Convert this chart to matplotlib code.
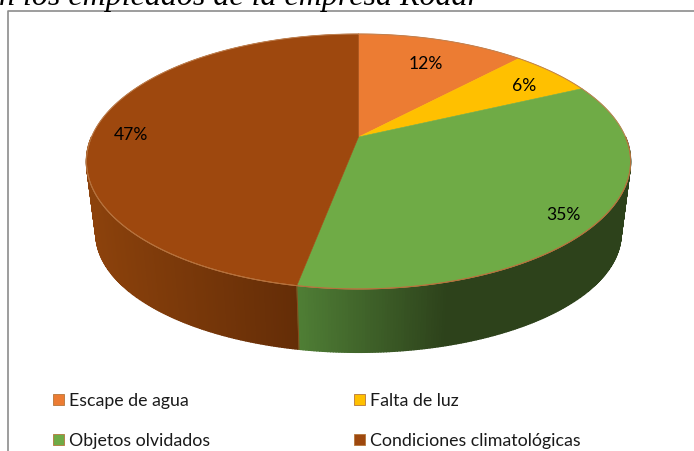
import numpy as np
import matplotlib
matplotlib.use("Agg")
import matplotlib.pyplot as plt
from matplotlib.patches import Rectangle
from matplotlib.colors import to_rgb

categories = ["Escape de agua", "Falta de luz", "Objetos olvidados", "Condiciones climatológicas"]
values = [12, 6, 35, 47]
colors = ["#EC7C33", "#FFC000", "#6FAB46", "#9E480E"]
title = "n los empleados de la empresa Rodar"

W, H = 694, 452

# posiciones en pixeles
label_pos = [(426, 64), (524, 86), (563, 215), (131, 135)]
legend_pos = [(53, 401), (354, 401), (53, 441), (354, 441)]

# disco en perspectiva
cx, apex_y = 358.5, 138.0
X, Y, k = 267.0, 122.8, 0.192
bottom_y, sx, sy = 212.0, 0.965, 0.93


def top_ring(theta):
    u, v = np.sin(theta), np.cos(theta)
    d = 1 + k * v
    return cx + X * u / d, apex_y - Y * v / d


def low_ring(theta):
    u, v = np.sin(theta), np.cos(theta)
    d = 1 + k * v
    return cx + sx * X * u / d, bottom_y - sy * Y * v / d


def lerp(c1, c2, t):
    return tuple(np.array(c1) * (1 - t) + np.array(c2) * t)


plt.rcParams["font.family"] = ["Lato", "DejaVu Sans"]
fig = plt.figure(figsize=(W / 100, H / 100), dpi=100)
ax = fig.add_axes([0, 0, 1, 1])
ax.set_xlim(0, W)
ax.set_ylim(H, 0)
ax.axis("off")

# marco del grafico
ax.plot([8.5, 8.5, W], [H, 11.5, 11.5], color="#8c8c8c", lw=1.2)

edges = np.cumsum([0] + values) / sum(values) * 2 * np.pi

# pared lateral, por tiras
green_l, green_r = to_rgb("#4F7E35"), to_rgb("#2D421B")
brown_l, brown_r = to_rgb("#8C420C"), to_rgb("#642D07")
seam_x = top_ring(edges[3])[0]
wall = np.radians(np.linspace(90, 270, 361))
for a, b in zip(wall[:-1], wall[1:]):
    m = (a + b) / 2
    xa, ya = top_ring(a)
    xb, yb = top_ring(b)
    xc, yc = low_ring(b)
    xd, yd = low_ring(a)
    xm = top_ring(m)[0]
    if m < edges[3]:
        c = lerp(green_l, green_r, np.clip((xm - seam_x) / 150, 0, 1))
    else:
        c = lerp(brown_r, brown_l, np.clip((seam_x - xm) / 210, 0, 1))
    ax.fill([xa, xb, xc, xd], [ya, yb, yc, yd], color=c, lw=1.0)

# cara superior
for i, c in enumerate(colors):
    t = np.linspace(edges[i], edges[i + 1], 120)
    px, py = top_ring(t)
    ax.fill(np.r_[cx, px], np.r_[apex_y, py], color=c, lw=0.4)
    ax.plot(px, py, color="#BE8050", lw=0.7)

# union entre las dos paredes
x0, y0 = top_ring(edges[3])
x1, y1 = low_ring(edges[3])
ax.plot([x0, x1], [y0, y1], color="#8A4A1A", lw=0.7)
ax.plot(*top_ring(np.radians(np.linspace(90, 270, 200))), color="#B5703A", lw=0.7)

for v, (lx, ly) in zip(values, label_pos):
    ax.text(lx, ly, f"{v}%", ha="center", va="center", fontsize=12.6, color="black")

for name, c, (lx, ly) in zip(categories, colors, legend_pos):
    ax.add_patch(Rectangle((lx, ly - 6), 11, 11, facecolor=c, edgecolor="#B5763A", lw=0.6))
    ax.text(lx + 16, ly, name, ha="left", va="center", fontsize=12.8, color="#1a1a1a")

ax.text(-1, 5, title, family=["Liberation Serif", "DejaVu Serif"], style="italic",
        fontsize=23, ha="left", va="baseline", color="black")

fig.savefig("out.png", dpi=100)
